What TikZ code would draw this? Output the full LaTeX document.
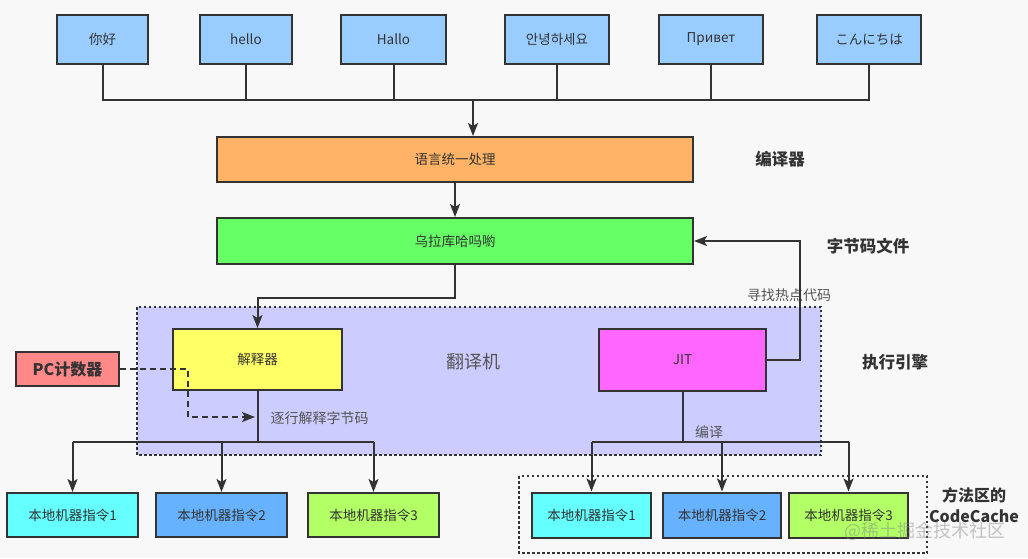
\documentclass[tikz,border=0pt]{standalone}
\usepackage{fontspec}
\setmainfont{Noto Sans CJK SC}
\usetikzlibrary{arrows.meta}
\definecolor{bg}{HTML}{F8F8F8}
\definecolor{ln}{HTML}{333333}
\definecolor{txt}{HTML}{333333}
\definecolor{lbl}{HTML}{555555}
\definecolor{langc}{HTML}{99CCFF}
\definecolor{orangec}{HTML}{FFB366}
\definecolor{greenc}{HTML}{66FF66}
\definecolor{yellowc}{HTML}{FFFF66}
\definecolor{magc}{HTML}{FF66FF}
\definecolor{pcc}{HTML}{FF8888}
\definecolor{cyanc}{HTML}{66FFFF}
\definecolor{bluec}{HTML}{66B2FF}
\definecolor{limec}{HTML}{B3FF66}
\definecolor{lavc}{HTML}{CCCCFF}
\tikzset{
  box/.style={draw=ln, line width=2pt, rectangle, inner sep=0pt, text=txt,
    font=\fontsize{13.5}{16}\selectfont},
  conn/.style={draw=ln, line width=2pt},
  arr/.style={conn, -{Stealth[length=13pt,width=10pt,inset=3pt]}},
  dasharr/.style={draw=ln, line width=2pt, dash pattern=on 6pt off 4pt,
    -{Stealth[length=13pt,width=10pt,inset=3pt]}},
  dotbox/.style={draw=ln, line width=2pt, dash pattern=on 2.5pt off 2.5pt},
  side/.style={text=ln, font=\bfseries\fontsize{16.5}{19}\selectfont},
  small/.style={text=lbl, font=\fontsize{14}{16}\selectfont}
}
\begin{document}
\begin{tikzpicture}[x=1pt,y=-1pt]
\useasboundingbox[fill=bg] (0,0) rectangle (1028,558);

% regions
\path[dotbox, fill=lavc] (137,307) rectangle (821,455);
\path[dotbox] (519,476) rectangle (927,553);

% top language boxes
\node[box, fill=langc, minimum width=91pt, minimum height=49pt] (w1) at (102.5,39.5) {你好};
\node[box, fill=langc, minimum width=92pt, minimum height=49pt] (w2) at (246,39.5) {hello};
\node[box, fill=langc, minimum width=105pt, minimum height=49pt] (w3) at (393.5,39.5) {Hallo};
\node[box, fill=langc, minimum width=104pt, minimum height=49pt] (w4) at (557,39.5) {안녕하세요};
\node[box, fill=langc, minimum width=104pt, minimum height=49pt] (w5) at (711,39.5) {Привет};
\node[box, fill=langc, minimum width=104pt, minimum height=49pt] (w6) at (869,39.5) {こんにちは};

\node[box, fill=orangec, minimum width=476pt, minimum height=45pt] (lang) at (455,159.5) {语言统一处理};
\node[box, fill=greenc, minimum width=476pt, minimum height=46pt] (bc) at (455,241) {乌拉库哈吗喲};

\node[box, fill=yellowc, minimum width=169pt, minimum height=61pt] (interp) at (257.5,359.5) {解释器};
\node[box, fill=magc, minimum width=167pt, minimum height=62pt] (jit) at (682.5,360) {JIT};
\node[box, fill=pcc, minimum width=103pt, minimum height=34pt,
  font=\bfseries\fontsize{16}{19}\selectfont] (pc) at (67.5,369) {PC计数器};

\node[box, fill=cyanc, minimum width=131pt, minimum height=44pt] (m1) at (72.5,515) {本地机器指令1};
\node[box, fill=bluec, minimum width=131pt, minimum height=44pt] (m2) at (221.5,515) {本地机器指令2};
\node[box, fill=limec, minimum width=131pt, minimum height=44pt] (m3) at (373.5,515) {本地机器指令3};

\node[box, fill=cyanc, minimum width=119pt, minimum height=45pt] (c1) at (591.5,515) {本地机器指令1};
\node[box, fill=bluec, minimum width=118pt, minimum height=45pt] (c2) at (722,515) {本地机器指令2};
\node[box, fill=limec, minimum width=119pt, minimum height=45pt] (c3) at (848.5,515) {本地机器指令3};

% labels
\node[side] (l1) at (780,159) {编译器};
\node[side] (l2) at (868,246) {字节码文件};
\node[side] (l3) at (895,362) {执行引擎};
\node[side, align=center, font=\bfseries\fontsize{16}{21}\selectfont] (l4) at (974,505) {方法区的\\CodeCache};
\node[text=lbl, font=\fontsize{18}{20}\selectfont] (l5) at (473,362) {翻译机};
\node[small, anchor=west] (l6) at (267,418) {逐行解释字节码};
\node[small] (l7) at (789,295) {寻找热点代码};
\node[small] (l8) at (709,432) {编译};
\node[text=gray, opacity=0.45, font=\fontsize{18}{20}\selectfont] (wm) at (925,531) {@稀土掘金技术社区};

% top bus
\coordinate (tb) at (473,100);
\draw[conn] (w1.south) |- (w6.south |- tb) -- (w6.south);
\foreach \n in {w2,w3,w4,w5} \draw[conn] (\n.south) -- (\n.south |- tb);
\draw[arr] (tb) -- (tb |- lang.north);
\draw[arr] (lang) -- (bc);
\draw[arr] (bc.south) -- ++(0,33) -| (interp.north);

% JIT feedback
\coordinate (jr) at (800,360);
\draw[arr] (jit.east) -- (jr) |- (bc.east);

% PC dashed
\coordinate (d1) at (188,417);
\coordinate (d2) at (255,417);
\draw[dasharr] (pc.east) -| (d1) -- (d2);

% interpreter outputs
\coordinate (ib) at (257.5,442);
\draw[conn] (interp.south) -- (ib);
\draw[conn] (m1.north |- ib) -- (m3.north |- ib);
\foreach \n in {m1,m2,m3} \draw[arr] (\n.north |- ib) -- (\n.north);

% JIT outputs
\coordinate (jb) at (682.5,442);
\draw[conn] (jit.south) -- (jb);
\draw[conn] (c1.north |- jb) -- (c3.north |- jb);
\foreach \n in {c1,c2,c3} \draw[arr] (\n.north |- jb) -- (\n.north);
\end{tikzpicture}
\end{document}
